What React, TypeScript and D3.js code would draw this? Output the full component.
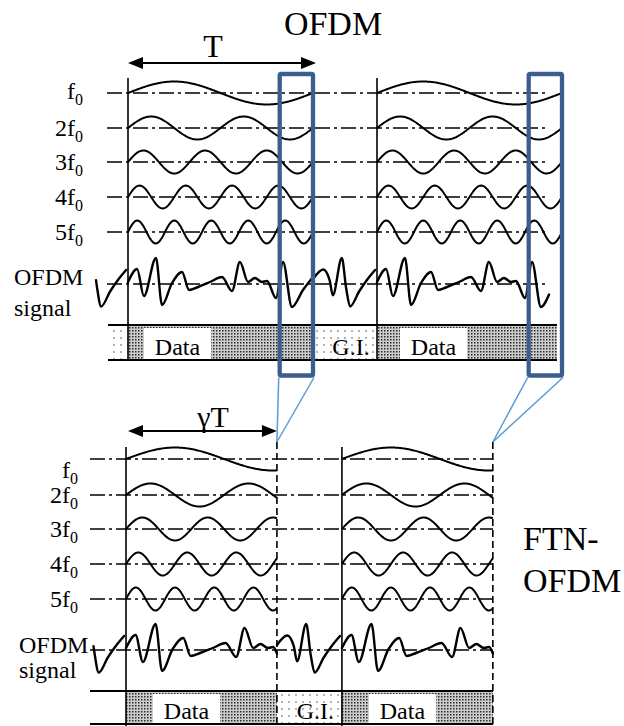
import React from 'react';
import * as d3 from 'd3';

// ---------------- data ----------------
const subcarriers = [1, 2, 3, 4, 5];              // multiples of f0
const gamma = 0.77;                                 // FTN compression factor (gamma T)
// composite OFDM signal over one symbol: time (in T) and relative amplitude
const signalT = [0, 0.049, 0.086, 0.151, 0.184, 0.238, 0.292, 0.33, 0.378, 0.443, 0.508, 0.562, 0.605, 0.649, 0.686, 0.724, 0.751, 0.8, 0.838, 0.886, 0.946, 1.0];
const signalA = [0.08, 0.6, -0.48, 1.04, -0.84, 0.04, 0.48, -0.24, -0.12, 0.08, 0.28, -0.28, 0.88, 0.08, 0.24, 0.08, 0.12, -0.56, 0.88, -0.92, -0.24, 0.28];
// guard interval (cyclic prefix) signal: time (fraction of G.I.) and relative amplitude
const guardU = [0, 0.16, 0.26, 0.31, 0.45, 0.52, 0.58, 0.72, 0.84, 0.97];
const guardA = [0.2, 0.58, 0.15, -0.45, 1.04, -0.2, -0.9, -0.3, 0.15, 0.56];
const prefixFrom = 0.5;                             // visible part of the leading prefix
const ofdmSignalSpan = [1.0, 0.93];                 // drawn part of each OFDM symbol's signal
const cutBox = [0.82, 1.0];                         // highlighted tail of each OFDM symbol
const barLabels = ['Data', 'G.I.', 'Data'];
const titles = ['OFDM', 'FTN-', 'OFDM'];

// ---------------- layout ----------------
const W = 624, H = 726;
const SERIF = '"Liberation Serif", "Times New Roman", Times, serif';
const AMP = 11.5;
const SIG_AMP = 25;
const BOX_BLUE = '#3b5e8f';
const LINK_BLUE = '#5b9bd5';

const UP = {
  x0: 128, T: 185, gi: 64, rows: [93, 128, 162, 197, 232], sigY: 284,
  lineL: 107, lineR: 549, vTop: 78, vBot: 360,
  barTop: 325, barBot: 360, barL: 108, barR: 557,
  labelR: 83, labelDy: [6, 8, 8, 8, 8], sigLabelX: 14, sigLabelY: [285, 316],
  dataOff: [16, 23], boxTop: 74, boxBot: 375.5,
};
const LO = {
  x0: 126, T: 196, gi: 65, rows: [459, 495, 529, 564, 599], sigY: 650,
  lineL: 90, lineR: 493, vTop: 447, vBot: 726, dashTop: 442,
  barTop: 691, barBot: 724, barL: 90, barR: 493,
  labelR: 78, labelDy: [19, 8, 8, 8, 8], sigLabelX: 19, sigLabelY: [653, 678],
  dataOff: [27, 27],
};

const curve = d3.line<[number, number]>().curve(d3.curveMonotoneX);
const straight = d3.line<[number, number]>();
const sigInterp = d3.scaleLinear().domain(signalT).range(signalA).clamp(true);
const guardInterp = d3.scaleLinear().domain(guardU).range(guardA).clamp(true);

function cut(ts: number[], a: number, b: number) {
  return [a, ...ts.filter(t => t > a + 1e-6 && t < b - 1e-6), b];
}

function sinePath(x: d3.ScaleLinear<number, number>, row: number, k: number, dur: number) {
  const n = 160;
  const pts = d3.range(n + 1).map(i => {
    const t = (dur * i) / n;
    return [x(t), row - AMP * Math.sin(2 * Math.PI * k * t)] as [number, number];
  });
  return straight(pts) || '';
}

function Label({ k, x, y }: { k: number; x: number; y: number }) {
  return (
    <text x={x} y={y} textAnchor="end" fontFamily={SERIF} fontSize={24}>
      {(k === 1 ? '' : String(k)) + 'f'}
      <tspan fontSize={16} dy={6}>0</tspan>
    </text>
  );
}

function Arrow({ x1, x2, y }: { x1: number; x2: number; y: number }) {
  const hl = 15, hw = 6;
  return (
    <g>
      <line x1={x1 + hl - 2} x2={x2 - hl + 2} y1={y} y2={y} stroke="#000" strokeWidth={2.2} />
      <polygon points={`${x1},${y} ${x1 + hl},${y - hw} ${x1 + hl},${y + hw}`} fill="#000" />
      <polygon points={`${x2},${y} ${x2 - hl},${y - hw} ${x2 - hl},${y + hw}`} fill="#000" />
    </g>
  );
}

function Section({ cfg, dur, sigSpan, upper }: { cfg: any; dur: number; sigSpan: number[]; upper: boolean }) {
  const starts = [cfg.x0, cfg.x0 + dur * cfg.T + cfg.gi];
  const xs = starts.map(s => d3.scaleLinear().domain([0, 1]).range([s, s + cfg.T]));
  const ends = xs.map(x => x(dur));
  const gx = (g0: number) => d3.scaleLinear().domain([0, 1]).range([g0, g0 + cfg.gi]);
  const ys = d3.scaleLinear().domain([-1, 1]).range([cfg.sigY + SIG_AMP, cfg.sigY - SIG_AMP]);
  const dashDot = '15 4 3 4';
  const allRows = [...cfg.rows, cfg.sigY];

  // signal segments
  const segs: [number, number][][] = [];
  const pre = gx(starts[0] - cfg.gi);
  segs.push(cut(guardU, prefixFrom, guardU[guardU.length - 1]).map(u => [pre(u), ys(guardInterp(u))]));
  xs.forEach((x, i) => {
    segs.push(cut(signalT, 0, sigSpan[i]).map(t => [x(t), ys(sigInterp(t))]));
  });
  const g1 = gx(ends[0]);
  segs.push(cut(guardU, 0, guardU[guardU.length - 1]).map(u => [g1(u), ys(guardInterp(u))]));

  return (
    <g>
      {/* bar */}
      {upper && <rect x={cfg.barL} y={cfg.barTop} width={starts[0] - cfg.barL} height={cfg.barBot - cfg.barTop} fill="url(#dots)" />}
      <rect x={starts[0]} y={cfg.barTop} width={ends[0] - starts[0]} height={cfg.barBot - cfg.barTop} fill="url(#stip)" />
      <rect x={ends[0]} y={cfg.barTop} width={starts[1] - ends[0]} height={cfg.barBot - cfg.barTop} fill="url(#dots)" />
      <rect x={starts[1]} y={cfg.barTop} width={Math.min(cfg.barR, ends[1]) - starts[1]} height={cfg.barBot - cfg.barTop} fill="url(#stip)" />
      {starts.map((s, i) => (
        <g key={'d' + i}>
          <rect x={s + cfg.dataOff[i]} y={cfg.barTop + 3} width={67} height={cfg.barBot - cfg.barTop - 4} fill="#fff" />
          <text x={s + cfg.dataOff[i] + 33.5} y={cfg.barBot - 5} textAnchor="middle" fontFamily={SERIF} fontSize={24}>{barLabels[i * 2]}</text>
        </g>
      ))}
      <text x={(ends[0] + starts[1]) / 2 + 6} y={cfg.barBot - 5} textAnchor="middle" fontFamily={SERIF} fontSize={24}>{barLabels[1]}</text>
      <line x1={cfg.barL} x2={cfg.barR} y1={cfg.barTop} y2={cfg.barTop} stroke="#000" strokeWidth={2} />
      <line x1={cfg.barL} x2={cfg.barR} y1={cfg.barBot} y2={cfg.barBot} stroke="#000" strokeWidth={2} />
      {upper && <line x1={ends[0]} x2={ends[0]} y1={cfg.barTop} y2={cfg.barBot} stroke="#000" strokeWidth={1.6} strokeDasharray="5 3" />}

      {/* reference lines */}
      {allRows.map((r: number, i: number) => (
        <line key={'r' + i} x1={cfg.lineL} x2={cfg.lineR} y1={r} y2={r} stroke="#000" strokeWidth={1.6} strokeDasharray={dashDot} />
      ))}
      {starts.map((s, i) => (
        <line key={'v' + i} x1={s} x2={s} y1={cfg.vTop} y2={cfg.vBot} stroke="#000" strokeWidth={1.6} />
      ))}
      {!upper && ends.map((e, i) => (
        <line key={'e' + i} x1={e} x2={e} y1={cfg.dashTop} y2={cfg.vBot} stroke="#000" strokeWidth={1.6} strokeDasharray="7 4" />
      ))}

      {/* subcarriers */}
      {xs.map((x, i) => subcarriers.map((k, j) => (
        <path key={`s${i}-${k}`} d={sinePath(x, cfg.rows[j], k, dur)} fill="none" stroke="#000" strokeWidth={2} />
      )))}
      {/* composite signal */}
      {segs.map((s, i) => (
        <path key={'g' + i} d={curve(s) || ''} fill="none" stroke="#000" strokeWidth={2.4} strokeLinejoin="round" strokeLinecap="round" />
      ))}

      {/* labels */}
      {subcarriers.map((k, j) => (
        <Label key={'l' + k} k={k} x={cfg.labelR} y={cfg.rows[j] + cfg.labelDy[j]} />
      ))}
      <text x={cfg.sigLabelX} y={cfg.sigLabelY[0]} fontFamily={SERIF} fontSize={24}>OFDM</text>
      <text x={cfg.sigLabelX} y={cfg.sigLabelY[1]} fontFamily={SERIF} fontSize={24}>signal</text>
    </g>
  );
}

export default function App() {
  const upStarts = [UP.x0, UP.x0 + UP.T + UP.gi];
  const upX = upStarts.map(s => d3.scaleLinear().domain([0, 1]).range([s, s + UP.T]));
  const loStarts = [LO.x0, LO.x0 + gamma * LO.T + LO.gi];
  const loEnds = loStarts.map(s => s + gamma * LO.T);
  return (
    <svg width={W} height={H} viewBox={`0 0 ${W} ${H}`} style={{ position: 'absolute', left: 0, top: 0, background: '#fff' }}>
      <defs>
        <pattern id="stip" width={3} height={3} patternUnits="userSpaceOnUse">
          <rect width={3} height={3} fill="#cdcdcd" />
          <rect width={1.5} height={1.5} fill="#2a2a2a" />
        </pattern>
        <pattern id="dots" width={7} height={7} patternUnits="userSpaceOnUse">
          <rect width={7} height={7} fill="#fff" />
          <circle cx={2} cy={2} r={0.8} fill="#555" />
        </pattern>
      </defs>

      <text x={333} y={35} textAnchor="middle" fontFamily={SERIF} fontSize={34}>{titles[0]}</text>
      <text x={213} y={57} textAnchor="middle" fontFamily={SERIF} fontSize={32}>T</text>
      <Arrow x1={UP.x0} x2={UP.x0 + UP.T + 3} y={63} />

      <Section cfg={UP} dur={1} sigSpan={ofdmSignalSpan} upper={true} />

      <text x={213} y={427} textAnchor="middle" fontFamily={SERIF} fontSize={30}>γT</text>
      <Arrow x1={LO.x0 + 2} x2={loEnds[0]} y={431} />

      <Section cfg={LO} dur={gamma} sigSpan={[gamma, gamma]} upper={false} />

      <text x={523} y={550} fontFamily={SERIF} fontSize={34}>{titles[1]}</text>
      <text x={523} y={592} fontFamily={SERIF} fontSize={34}>{titles[2]}</text>

      {/* highlighted tails and their links to the FTN symbols */}
      {upX.map((x, i) => {
        const a = x(cutBox[0]), b = x(cutBox[1]);
        return (
          <g key={'box' + i}>
            <line x1={a - 1} y1={UP.boxBot + 2} x2={loEnds[i]} y2={LO.dashTop} stroke={LINK_BLUE} strokeWidth={1.5} />
            <line x1={b + 1} y1={UP.boxBot + 2} x2={loEnds[i]} y2={LO.dashTop} stroke={LINK_BLUE} strokeWidth={1.5} />
            <rect x={a} y={UP.boxTop} width={b - a} height={UP.boxBot - UP.boxTop} fill="none" stroke={BOX_BLUE} strokeWidth={4.3} rx={1.5} />
          </g>
        );
      })}
    </svg>
  );
}
